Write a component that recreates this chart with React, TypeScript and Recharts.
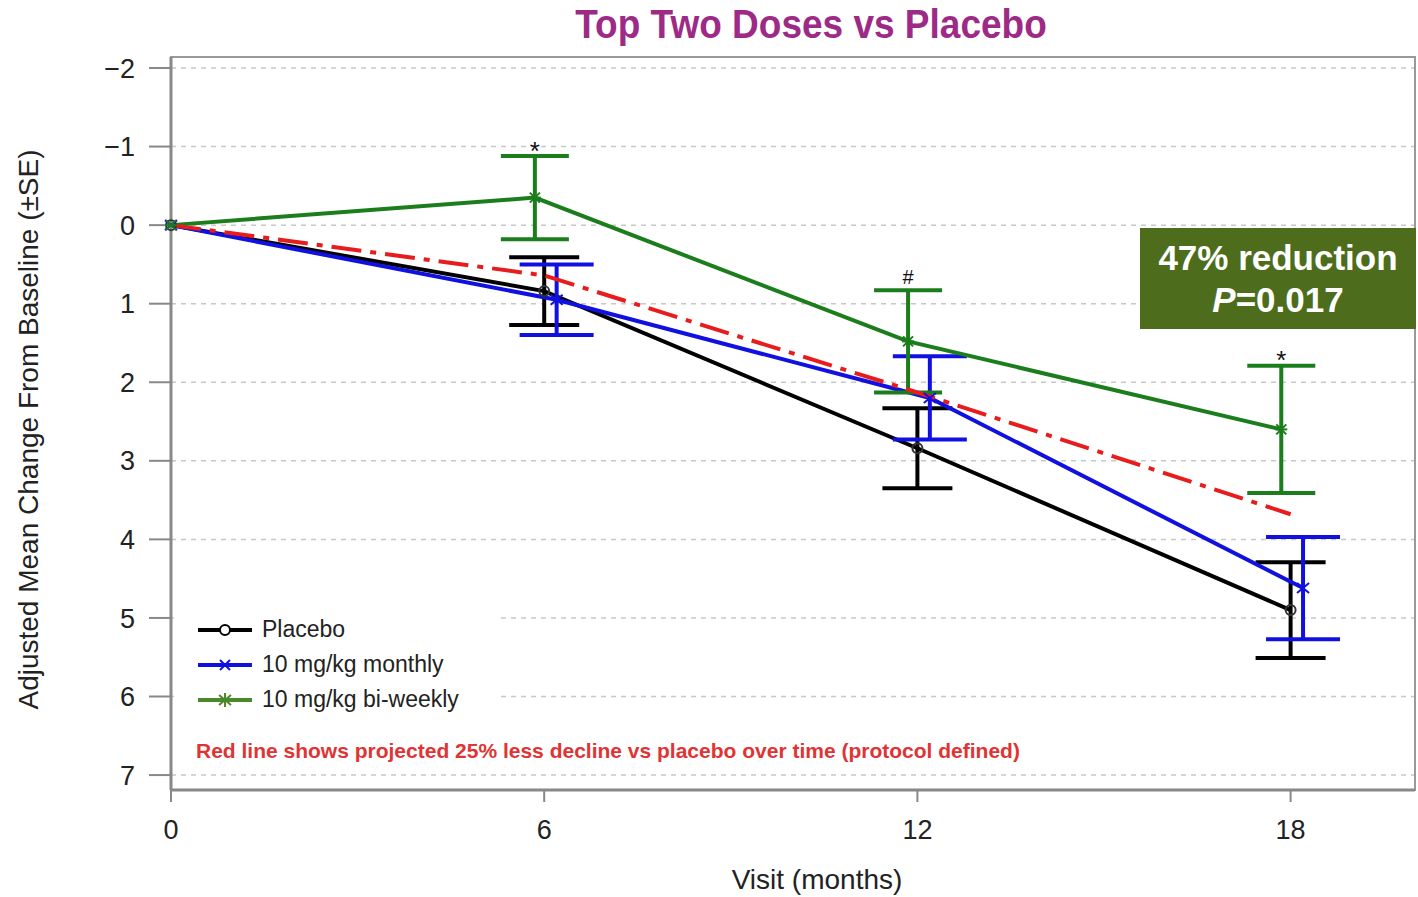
import {
  LineChart,
  Line,
  XAxis,
  YAxis,
  CartesianGrid,
  ErrorBar,
  ReferenceArea,
  ReferenceDot,
  Legend,
  Label,
} from 'recharts'

// values (y axis is reversed: decline goes down)
const placeboMonths = [0, 6, 12, 18]
const placeboMean = [0, 0.84, 2.84, 4.9]
const placeboSE = [0, 0.43, 0.51, 0.61]

const monthlyMonths = [0, 6.2, 12.2, 18.2]
const monthlyMean = [0, 0.95, 2.2, 4.62]
const monthlySE = [0, 0.45, 0.53, 0.65]

const biweeklyMonths = [0, 5.85, 11.85, 17.85]
const biweeklyMean = [0, -0.35, 1.48, 2.6]
const biweeklySE = [0, 0.53, 0.65, 0.81]

const projectedMonths = [0, 6, 12, 18]
const projectedMean = [0, 0.64, 2.13, 3.68]

const xTicks = [0, 6, 12, 18]
const yTicks = [-2, -1, 0, 1, 2, 3, 4, 5, 6, 7]

// significance marks above the bi-weekly error bars
const sigMarks = [
  { x: 5.85, y: -0.88, text: '*' },
  { x: 11.85, y: 0.83, text: '#' },
  { x: 17.85, y: 1.78, text: '*' },
]

const FONT = '"Liberation Sans", Arial, Helvetica, sans-serif'
const BLACK = '#000000'
const BLUE = '#1010e0'
const GREEN = '#1b7d1b'
const RED = '#e81c1c'

const build = (xs: number[], ys: number[], se?: number[]) =>
  xs.map((m, i) => ({ month: m, value: ys[i], se: se ? se[i] || null : null }))

const placeboData = build(placeboMonths, placeboMean, placeboSE)
const monthlyData = build(monthlyMonths, monthlyMean, monthlySE)
const biweeklyData = build(biweeklyMonths, biweeklyMean, biweeklySE)
const projectedData = build(projectedMonths, projectedMean)

const CircleDot = (p: any) => (
  <circle key={`c${p.index}`} cx={p.cx} cy={p.cy} r={5} fill="none" stroke="#333" strokeWidth={2} />
)

const CrossDot = (p: any) => (
  <g key={`x${p.index}`} stroke={BLUE} strokeWidth={2}>
    <line x1={p.cx - 6} y1={p.cy - 5} x2={p.cx + 6} y2={p.cy + 5} />
    <line x1={p.cx - 6} y1={p.cy + 5} x2={p.cx + 6} y2={p.cy - 5} />
  </g>
)

const StarDot = (p: any) => (
  <g key={`s${p.index}`} stroke={GREEN} strokeWidth={2}>
    <line x1={p.cx - 6} y1={p.cy} x2={p.cx + 6} y2={p.cy} />
    <line x1={p.cx - 5} y1={p.cy - 5} x2={p.cx + 5} y2={p.cy + 5} />
    <line x1={p.cx - 5} y1={p.cy + 5} x2={p.cx + 5} y2={p.cy - 5} />
  </g>
)

const legendItems = [
  { label: 'Placebo', color: BLACK, marker: 'circle' },
  { label: '10 mg/kg monthly', color: BLUE, marker: 'cross' },
  { label: '10 mg/kg bi-weekly', color: '#4a8a2a', marker: 'star' },
]

function LegendBox() {
  return (
    <div style={{ fontFamily: FONT, fontSize: 23, color: '#222' }}>
      {legendItems.map((it) => (
        <div key={it.label} style={{ display: 'flex', alignItems: 'center', height: 35 }}>
          <svg width={58} height={16} style={{ marginRight: 8 }}>
            <line x1={2} y1={8} x2={56} y2={8} stroke={it.color} strokeWidth={4} />
            {it.marker === 'circle' && (
              <circle cx={29} cy={8} r={5} fill="#fff" stroke={it.color} strokeWidth={2} />
            )}
            {it.marker === 'cross' && (
              <g stroke={it.color} strokeWidth={2}>
                <line x1={24} y1={3} x2={34} y2={13} />
                <line x1={24} y1={13} x2={34} y2={3} />
              </g>
            )}
            {it.marker === 'star' && (
              <g stroke={it.color} strokeWidth={2}>
                <line x1={29} y1={1} x2={29} y2={15} />
                <line x1={23} y1={3} x2={35} y2={13} />
                <line x1={23} y1={13} x2={35} y2={3} />
              </g>
            )}
          </svg>
          <span>{it.label}</span>
        </div>
      ))}
    </div>
  )
}

const fmtY = (v: number) => (v < 0 ? `\u2212${-v}` : `${v}`)

export default function App() {
  return (
    <div
      style={{
        position: 'absolute',
        left: 0,
        top: 0,
        width: 1418,
        height: 897,
        background: '#fff',
        fontFamily: FONT,
      }}
    >
      <div
        style={{
          position: 'absolute',
          left: 0,
          width: 1622,
          top: 4,
          textAlign: 'center',
          fontSize: 37,
          fontWeight: 'bold',
          color: '#9c2a86',
          transform: 'scaleY(1.08)',
        }}
      >
        Top Two Doses vs Placebo
      </div>

      <LineChart
        width={1418}
        height={897}
        margin={{ top: 57, right: 3, bottom: 0, left: 0 }}
        style={{ fontFamily: FONT }}
      >
        <CartesianGrid vertical={false} stroke="#c8c8c8" strokeDasharray="5 5" strokeWidth={1.5} />
        <ReferenceArea
          x1={0}
          x2={20}
          y1={-2.14}
          y2={7.19}
          fill="none"
          stroke="#999"
          strokeWidth={2}
          ifOverflow="visible"
        />
        <XAxis
          dataKey="month"
          type="number"
          domain={[0, 20]}
          ticks={xTicks}
          allowDuplicatedCategory={false}
          height={107}
          axisLine={{ stroke: '#888', strokeWidth: 3 }}
          tickLine={{ stroke: '#888', strokeWidth: 2 }}
          tickSize={12}
          tickMargin={18}
          tick={{ fontSize: 27, fill: '#222' }}
        >
          <Label
            value="Visit (months)"
            position="insideBottom"
            offset={8}
            dx={24}
            style={{ fontSize: 28, fill: '#222' }}
          />
        </XAxis>
        <YAxis
          type="number"
          domain={[-2.14, 7.19]}
          ticks={yTicks}
          reversed
          allowDataOverflow
          interval={0}
          width={171}
          axisLine={{ stroke: '#888', strokeWidth: 3 }}
          tickLine={{ stroke: '#888', strokeWidth: 2 }}
          tickSize={22}
          tickMargin={14}
          tickFormatter={fmtY}
          tick={{ fontSize: 27, fill: '#222' }}
        >
          <Label
            value="Adjusted Mean Change From Baseline (±SE)"
            angle={-90}
            position="insideLeft"
            offset={28}
            dy={6}
            style={{ fontSize: 28, fill: '#222', textAnchor: 'middle' }}
          />
        </YAxis>

        <Line
          data={placeboData}
          dataKey="value"
          name="Placebo"
          stroke={BLACK}
          strokeWidth={4}
          dot={CircleDot}
          activeDot={false}
          isAnimationActive={false}
        >
          <ErrorBar dataKey="se" direction="y" width={35} stroke={BLACK} strokeWidth={4} isAnimationActive={false} />
        </Line>
        <Line
          data={monthlyData}
          dataKey="value"
          name="10 mg/kg monthly"
          stroke={BLUE}
          strokeWidth={4}
          dot={CrossDot}
          activeDot={false}
          isAnimationActive={false}
        >
          <ErrorBar dataKey="se" direction="y" width={37} stroke={BLUE} strokeWidth={4} isAnimationActive={false} />
        </Line>
        <Line
          data={biweeklyData}
          dataKey="value"
          name="10 mg/kg bi-weekly"
          stroke={GREEN}
          strokeWidth={4}
          dot={StarDot}
          activeDot={false}
          isAnimationActive={false}
        >
          <ErrorBar dataKey="se" direction="y" width={34} stroke={GREEN} strokeWidth={4} isAnimationActive={false} />
        </Line>
        <Line
          data={projectedData}
          dataKey="value"
          name="Projected"
          stroke={RED}
          strokeWidth={4}
          strokeDasharray="30 9 6 9"
          dot={false}
          activeDot={false}
          isAnimationActive={false}
        />

        {sigMarks.map((m, i) => (
          <ReferenceDot
            key={i}
            x={m.x}
            y={m.y}
            r={0}
            fill="none"
            stroke="none"
            ifOverflow="visible"
            label={{
              value: m.text,
              position: 'top',
              offset: m.text === '#' ? 6 : -4,
              style: { fontSize: m.text === '#' ? 20 : 26, fill: '#111' },
            }}
          />
        ))}

        <Legend
          layout="vertical"
          align="center"
          verticalAlign="middle"
          content={() => <LegendBox />}
          wrapperStyle={{ left: 174, top: 612, width: 303, height: 112, background: '#fff', paddingLeft: 22 }}
        />
      </LineChart>

      <div
        style={{
          position: 'absolute',
          left: 196,
          top: 739,
          fontSize: 21,
          fontWeight: 'bold',
          color: '#e03434',
        }}
      >
        Red line shows projected 25% less decline vs placebo over time (protocol defined)
      </div>

      <div
        style={{
          position: 'absolute',
          left: 1140,
          top: 228,
          width: 276,
          height: 101,
          background: '#4d6d1d',
          color: '#fff',
          fontSize: 35,
          fontWeight: 'bold',
          textAlign: 'center',
          lineHeight: '42px',
          paddingTop: 9,
          boxSizing: 'border-box',
          whiteSpace: 'nowrap',
        }}
      >
        <div>47% reduction</div>
        <div>
          <i>P</i>=0.017
        </div>
      </div>
    </div>
  )
}
